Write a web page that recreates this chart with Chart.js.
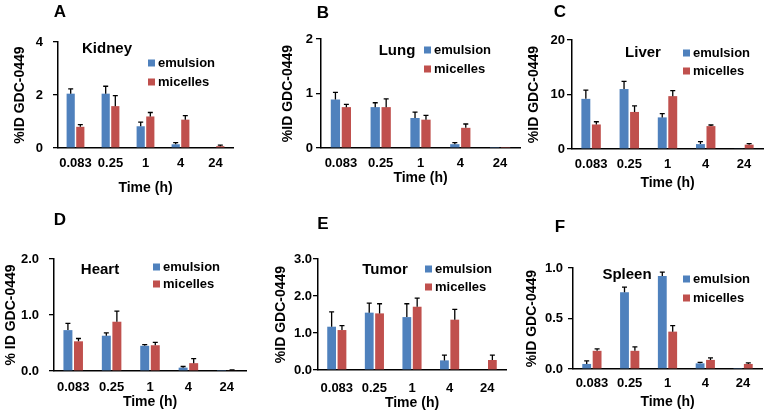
<!DOCTYPE html>
<html>
<head>
<meta charset="utf-8">
<script src="https://cdn.jsdelivr.net/npm/chart.js@4/dist/chart.umd.min.js"></script>
<style>
body { margin: 0; background: #fff; }
#wrap { position: relative; width: 764px; height: 413px; font-family: "Liberation Sans", Arial, sans-serif; font-weight: bold; color: #000; }
#wrap canvas { position: absolute; left: 0; top: 0; }
.lbl { position: absolute; transform: translate(-50%, -50%); white-space: nowrap; }
.letter { font-size: 17px; }
.organ { font-size: 15px; }
</style>
</head>
<body>
<div id="wrap">
  <canvas id="cA" width="764" height="413"></canvas>
  <canvas id="cB" width="764" height="413"></canvas>
  <canvas id="cC" width="764" height="413"></canvas>
  <canvas id="cD" width="764" height="413"></canvas>
  <canvas id="cE" width="764" height="413"></canvas>
  <canvas id="cF" width="764" height="413"></canvas>

  <div class="lbl letter" style="left:60px;top:12px">A</div>
  <div class="lbl letter" style="left:323px;top:13px">B</div>
  <div class="lbl letter" style="left:560px;top:12px">C</div>
  <div class="lbl letter" style="left:60px;top:220px">D</div>
  <div class="lbl letter" style="left:323px;top:224px">E</div>
  <div class="lbl letter" style="left:560px;top:227px">F</div>

  <div class="lbl organ" style="left:107px;top:47px">Kidney</div>
  <div class="lbl organ" style="left:397px;top:49px">Lung</div>
  <div class="lbl organ" style="left:643px;top:51px">Liver</div>
  <div class="lbl organ" style="left:100px;top:268px">Heart</div>
  <div class="lbl organ" style="left:385px;top:268px">Tumor</div>
  <div class="lbl organ" style="left:627px;top:273px">Spleen</div>
</div>
<script>
// time points (h)
var timeLabels = ['0.083', '0.25', '1', '4', '24'];

var kidneyEmulsion = [2.05, 2.05, 0.82, 0.14, 0];
var kidneyEmulsionErr = [0.18, 0.28, 0.16, 0.06, 0];
var kidneyMicelles = [0.80, 1.58, 1.19, 1.07, 0.07];
var kidneyMicellesErr = [0.08, 0.40, 0.15, 0.15, 0.04];

var lungEmulsion = [0.89, 0.75, 0.55, 0.07, 0.005];
var lungEmulsionErr = [0.13, 0.08, 0.11, 0.03, 0];
var lungMicelles = [0.75, 0.75, 0.52, 0.37, 0.005];
var lungMicellesErr = [0.05, 0.15, 0.08, 0.07, 0];

var liverEmulsion = [9.2, 11.0, 5.8, 0.9, 0.1];
var liverEmulsionErr = [1.6, 1.4, 0.7, 0.45, 0];
var liverMicelles = [4.5, 6.8, 9.7, 4.2, 0.8];
var liverMicellesErr = [0.5, 1.1, 1.0, 0.2, 0.2];

var heartEmulsion = [0.73, 0.63, 0.45, 0.06, 0.005];
var heartEmulsionErr = [0.12, 0.05, 0.02, 0.02, 0];
var heartMicelles = [0.53, 0.88, 0.46, 0.14, 0.01];
var heartMicellesErr = [0.05, 0.19, 0.05, 0.08, 0.01];

var tumorEmulsion = [1.17, 1.55, 1.43, 0.26, 0];
var tumorEmulsionErr = [0.40, 0.26, 0.36, 0.14, 0];
var tumorMicelles = [1.08, 1.53, 1.71, 1.36, 0.27];
var tumorMicellesErr = [0.12, 0.26, 0.23, 0.28, 0.13];

var spleenEmulsion = [0.05, 0.76, 0.92, 0.056, 0.003];
var spleenEmulsionErr = [0.03, 0.05, 0.04, 0.01, 0];
var spleenMicelles = [0.18, 0.18, 0.37, 0.09, 0.05];
var spleenMicellesErr = [0.02, 0.04, 0.06, 0.02, 0.01];

var blue = '#4f81bd';
var red = '#c0504d';

Chart.defaults.font.family = '"Liberation Sans", Arial, sans-serif';
Chart.defaults.font.weight = 'bold';
Chart.defaults.color = '#000';

// error bars, drawn upward only
var errorBars = {
    id: 'errorBars',
    afterDatasetsDraw: function (chart) {
        var ctx = chart.ctx, y = chart.scales.y;
        ctx.save();
        ctx.strokeStyle = '#000';
        ctx.lineWidth = 1.3;
        chart.data.datasets.forEach(function (ds, i) {
            chart.getDatasetMeta(i).data.forEach(function (bar, j) {
                var err = ds.errors[j];
                if (!err) return;
                var top = y.getPixelForValue(ds.data[j] + err);
                ctx.beginPath();
                ctx.moveTo(bar.x, bar.y);
                ctx.lineTo(bar.x, top);
                ctx.moveTo(bar.x - 2.5, top);
                ctx.lineTo(bar.x + 2.5, top);
                ctx.stroke();
            });
        });
        ctx.restore();
    }
};

// small square legend inside the plot
var boxLegend = {
    id: 'boxLegend',
    afterDraw: function (chart, args, o) {
        var ctx = chart.ctx;
        ctx.save();
        ctx.font = 'bold 13px "Liberation Sans", Arial, sans-serif';
        ctx.textBaseline = 'middle';
        chart.data.datasets.forEach(function (ds, i) {
            var yy = o.y + i * o.gap;
            ctx.fillStyle = ds.backgroundColor;
            ctx.fillRect(o.x, yy - 3.5, 7, 7);
            ctx.fillStyle = '#000';
            ctx.fillText(ds.label, o.x + 10, yy);
        });
        ctx.restore();
    }
};

function plotPanel(id, em, emErr, mic, micErr, p) {
    var padLeft = p.titleX - 8.4;
    return new Chart(document.getElementById(id), {
        type: 'bar',
        data: {
            labels: timeLabels,
            datasets: [
                { label: 'emulsion', data: em, errors: emErr, backgroundColor: blue },
                { label: 'micelles', data: mic, errors: micErr, backgroundColor: red }
            ]
        },
        options: {
            responsive: false,
            animation: false,
            categoryPercentage: 0.55,
            barPercentage: 0.85,
            layout: {
                padding: { left: padLeft, top: p.T, right: 764 - p.R, bottom: 413 - p.xTitleY - 8.4 }
            },
            plugins: {
                legend: { display: false },
                tooltip: { enabled: false },
                boxLegend: { x: p.legX, y: p.legY, gap: p.legGap }
            },
            scales: {
                x: {
                    grid: { display: false, drawTicks: false },
                    border: { display: true, color: '#000', width: 1.5 },
                    ticks: { padding: p.xTickPad, font: { size: 13, weight: 'bold' }, color: '#000', maxRotation: 0, autoSkip: false },
                    title: { display: true, text: 'Time (h)', font: { size: 14, weight: 'bold' }, color: '#000', padding: 0 },
                    afterFit: function (s) { s.height = p.xTitleY + 8.4 - p.B; }
                },
                y: {
                    min: 0,
                    max: p.max,
                    ticks: {
                        stepSize: p.step, padding: p.yTickPad,
                        font: { size: 13, weight: 'bold' }, color: '#000',
                        callback: function (v) { return v.toFixed(p.dec); }
                    },
                    grid: { display: true, drawOnChartArea: false, drawTicks: true, tickLength: 5, color: '#000', lineWidth: 1.3 },
                    border: { display: true, color: '#000', width: 1.5 },
                    title: { display: true, text: p.yTitle, font: { size: 14, weight: 'bold' }, color: '#000', padding: 0 },
                    afterFit: function (s) { s.width = p.L - padLeft; }
                }
            }
        },
        plugins: [errorBars, boxLegend]
    });
}

plotPanel('cA', kidneyEmulsion, kidneyEmulsionErr, kidneyMicelles, kidneyMicellesErr,
    { L: 58, T: 42, R: 233, B: 148, titleX: 20, xTickPad: 8, xTitleY: 188, yTickPad: 10,
      max: 4, step: 2, dec: 0, yTitle: '%ID GDC-0449', legX: 148, legY: 63, legGap: 19 });

plotPanel('cB', lungEmulsion, lungEmulsionErr, lungMicelles, lungMicellesErr,
    { L: 321, T: 39, R: 520, B: 148, titleX: 288, xTickPad: 8, xTitleY: 178, yTickPad: 3,
      max: 2, step: 1, dec: 0, yTitle: '%ID GDC-0449', legX: 424, legY: 50, legGap: 19 });

plotPanel('cC', liverEmulsion, liverEmulsionErr, liverMicelles, liverMicellesErr,
    { L: 572, T: 40, R: 763, B: 149, titleX: 534, xTickPad: 8, xTitleY: 183, yTickPad: 2,
      max: 20, step: 10, dec: 0, yTitle: '%ID GDC-0449', legX: 683, legY: 53, legGap: 18 });

plotPanel('cD', heartEmulsion, heartEmulsionErr, heartMicelles, heartMicellesErr,
    { L: 54, T: 259, R: 246, B: 371, titleX: 11, xTickPad: 9, xTitleY: 402, yTickPad: 10,
      max: 2, step: 1, dec: 1, yTitle: '% ID GDC-0449', legX: 153, legY: 267, legGap: 17 });

plotPanel('cE', tumorEmulsion, tumorEmulsionErr, tumorMicelles, tumorMicellesErr,
    { L: 318, T: 259, R: 506, B: 370, titleX: 281, xTickPad: 11, xTitleY: 403, yTickPad: 1,
      max: 3, step: 1, dec: 1, yTitle: '%ID GDC-0449', legX: 425, legY: 269, legGap: 18 });

plotPanel('cF', spleenEmulsion, spleenEmulsionErr, spleenMicelles, spleenMicellesErr,
    { L: 573, T: 268, R: 762, B: 369, titleX: 532, xTickPad: 7, xTitleY: 402, yTickPad: 5,
      max: 1, step: 0.5, dec: 1, yTitle: '%ID GDC-0449', legX: 683, legY: 279, legGap: 19 });
</script>
</body>
</html>
